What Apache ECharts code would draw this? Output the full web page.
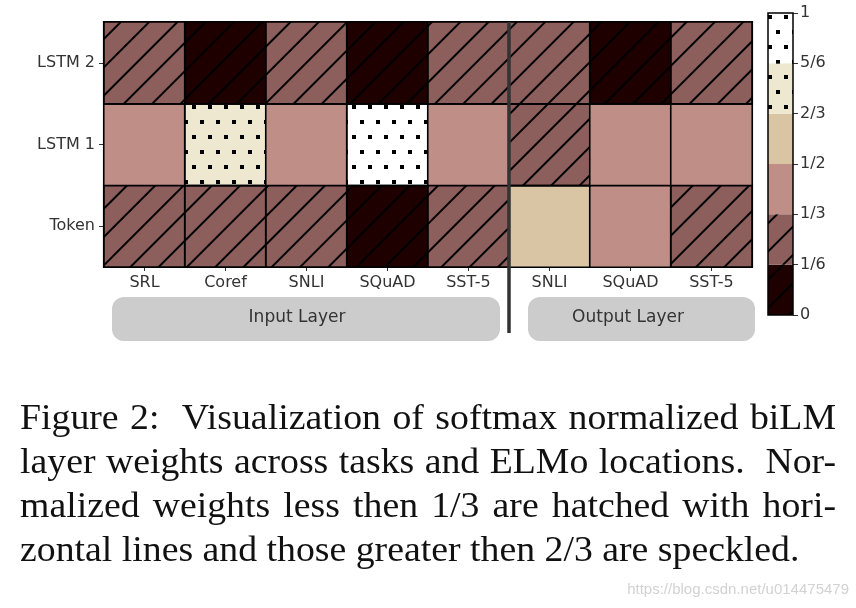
<!DOCTYPE html>
<html>
<head>
<meta charset="utf-8">
<script src="https://cdn.jsdelivr.net/npm/echarts@6/dist/echarts.min.js"></script>
<style>
  html, body { margin: 0; padding: 0; background: #fff; }
  #wrap { position: relative; width: 856px; height: 608px; overflow: hidden; }
  #chart { position: absolute; left: 0; top: 0; width: 856px; height: 608px; }
  #caption { position: absolute; left: 20px; top: 396px; width: 756px;
    transform: scaleX(1.0794); transform-origin: 0 0;
    font-family: 'Liberation Serif', 'Times New Roman', serif; font-size: 35px; line-height: 44px; color: #111; }
  #caption div { text-align: justify; text-align-last: justify; white-space: nowrap; }
  #caption div.last { text-align-last: left; }
  #wm { position: absolute; right: 7px; top: 580px; font-family: 'Liberation Sans', Arial, sans-serif;
    font-size: 15px; color: #d2d2d2; }
</style>
</head>
<body>
<div id="wrap">
  <div id="chart"></div>
  <div id="caption">
    <div>Figure 2:&nbsp; Visualization of softmax normalized biLM</div>
    <div>layer weights across tasks and ELMo locations.&nbsp; Nor-</div>
    <div>malized weights less then 1/3 are hatched with hori-</div>
    <div class="last">zontal lines and those greater then 2/3 are speckled.</div>
  </div>
  <div id="wm">https://blog.csdn.net/u014475479</div>
</div>
<script>
// ---- data ----
const tasks = ['SRL', 'Coref', 'SNLI', 'SQuAD', 'SST-5', 'SNLI', 'SQuAD', 'SST-5'];
const layers = ['Token', 'LSTM 1', 'LSTM 2'];
const tokenWeights = [0.28, 0.20, 0.28, 0.05, 0.30, 0.58, 0.45, 0.28];
const lstm1Weights = [0.44, 0.72, 0.42, 0.90, 0.40, 0.22, 0.45, 0.42];
const lstm2Weights = [0.28, 0.08, 0.30, 0.05, 0.30, 0.22, 0.10, 0.30];
const colorbarTicks = ['0', '1/6', '1/3', '1/2', '2/3', '5/6', '1'];
const binSizes = [1/6, 1/6, 1/6, 1/6, 1/6, 1/6];
const groupNames = ['Input Layer', 'Output Layer'];

// ---- styles ----
const binColors = ['#1e0000', '#8c5e5c', '#bf8e86', '#d9c4a3', '#ede8cf', '#ffffff'];
const hatch = { symbol: 'rect', symbolSize: 1, dashArrayX: [1, 0], dashArrayY: [1.1, 18],
  rotation: -Math.PI / 4, color: '#000' };
const dots = { symbol: 'rect', symbolSize: 1, dashArrayX: [[3.5, 11.5], [0, 7.5, 3.5, 4]],
  dashArrayY: [3.5, 11], rotation: 0, color: '#000' };
const binDecals = [hatch, hatch, null, null, dots, dots];

function binOf(v) { return Math.min(5, Math.floor(v * 6)); }
function styleFor(b) {
  const s = { color: binColors[b], borderColor: '#000', borderWidth: 1.6 };
  if (binDecals[b]) s.decal = binDecals[b];
  return s;
}

const rows = [tokenWeights, lstm1Weights, lstm2Weights];
const heatData = [];
rows.forEach((arr, r) => arr.forEach((v, c) => {
  heatData.push({ value: [c, r, v], itemStyle: styleFor(binOf(v)) });
}));

const cbSeries = binSizes.map((s, i) => {
  const st = { color: binColors[i] };
  if (binDecals[i]) st.decal = binDecals[i];
  return {
    type: 'bar', xAxisIndex: 1, yAxisIndex: 1, stack: 'cb', data: [s],
    barWidth: '100%', itemStyle: st, silent: true, animation: false
  };
});

const labelFont = { fontFamily: 'DejaVu Sans', fontSize: 16, color: '#333' };

const chart = echarts.init(document.getElementById('chart'), null, { renderer: 'canvas' });
chart.setOption({
  animation: false,
  grid: [
    { left: 104, top: 22, width: 648, height: 245, show: true, borderColor: '#000', borderWidth: 2, backgroundColor: 'transparent' },
    { left: 768, top: 13, width: 25, height: 302, show: true, borderColor: '#000', borderWidth: 1.5, backgroundColor: 'transparent', z: 5 }
  ],
  xAxis: [
    { type: 'category', gridIndex: 0, data: tasks,
      axisLine: { show: false }, splitLine: { show: false },
      axisTick: { show: true, alignWithLabel: true, length: 4, lineStyle: { color: '#333' } },
      axisLabel: Object.assign({ margin: 8, interval: 0 }, labelFont) },
    { type: 'category', gridIndex: 1, data: ['cb'], show: false }
  ],
  yAxis: [
    { type: 'category', gridIndex: 0, data: layers,
      axisLine: { show: false }, splitLine: { show: false },
      axisTick: { show: true, alignWithLabel: true, length: 5, lineStyle: { color: '#333' } },
      axisLabel: Object.assign({ margin: 9 }, labelFont) },
    { type: 'value', gridIndex: 1, min: 0, max: 1, interval: 1 / 6, position: 'right',
      axisLine: { show: false }, splitLine: { show: false },
      axisTick: { show: true, length: 5, lineStyle: { color: '#333' } },
      axisLabel: Object.assign({ margin: 7, formatter: v => colorbarTicks[Math.round(v * 6)] }, labelFont) }
  ],
  series: [
    { type: 'heatmap', xAxisIndex: 0, yAxisIndex: 0, data: heatData,
      emphasis: { disabled: true }, silent: true, animation: false }
  ].concat(cbSeries),
  graphic: [
    { type: 'rect', shape: { x: 112, y: 297, width: 388, height: 44, r: 12 }, style: { fill: '#cccccc' }, z: 1 },
    { type: 'rect', shape: { x: 528, y: 297, width: 227, height: 44, r: 12 }, style: { fill: '#cccccc' }, z: 1 },
    { type: 'text', x: 297, y: 318, style: { text: groupNames[0], fontFamily: 'DejaVu Sans', fontSize: 17, fill: '#333', align: 'center', verticalAlign: 'middle' }, z: 2 },
    { type: 'text', x: 628, y: 318, style: { text: groupNames[1], fontFamily: 'DejaVu Sans', fontSize: 17, fill: '#333', align: 'center', verticalAlign: 'middle' }, z: 2 },
    { type: 'line', shape: { x1: 509, y1: 22, x2: 509, y2: 333 }, style: { stroke: '#333', lineWidth: 3.5 }, z: 10 }
  ]
});
</script>
</body>
</html>
